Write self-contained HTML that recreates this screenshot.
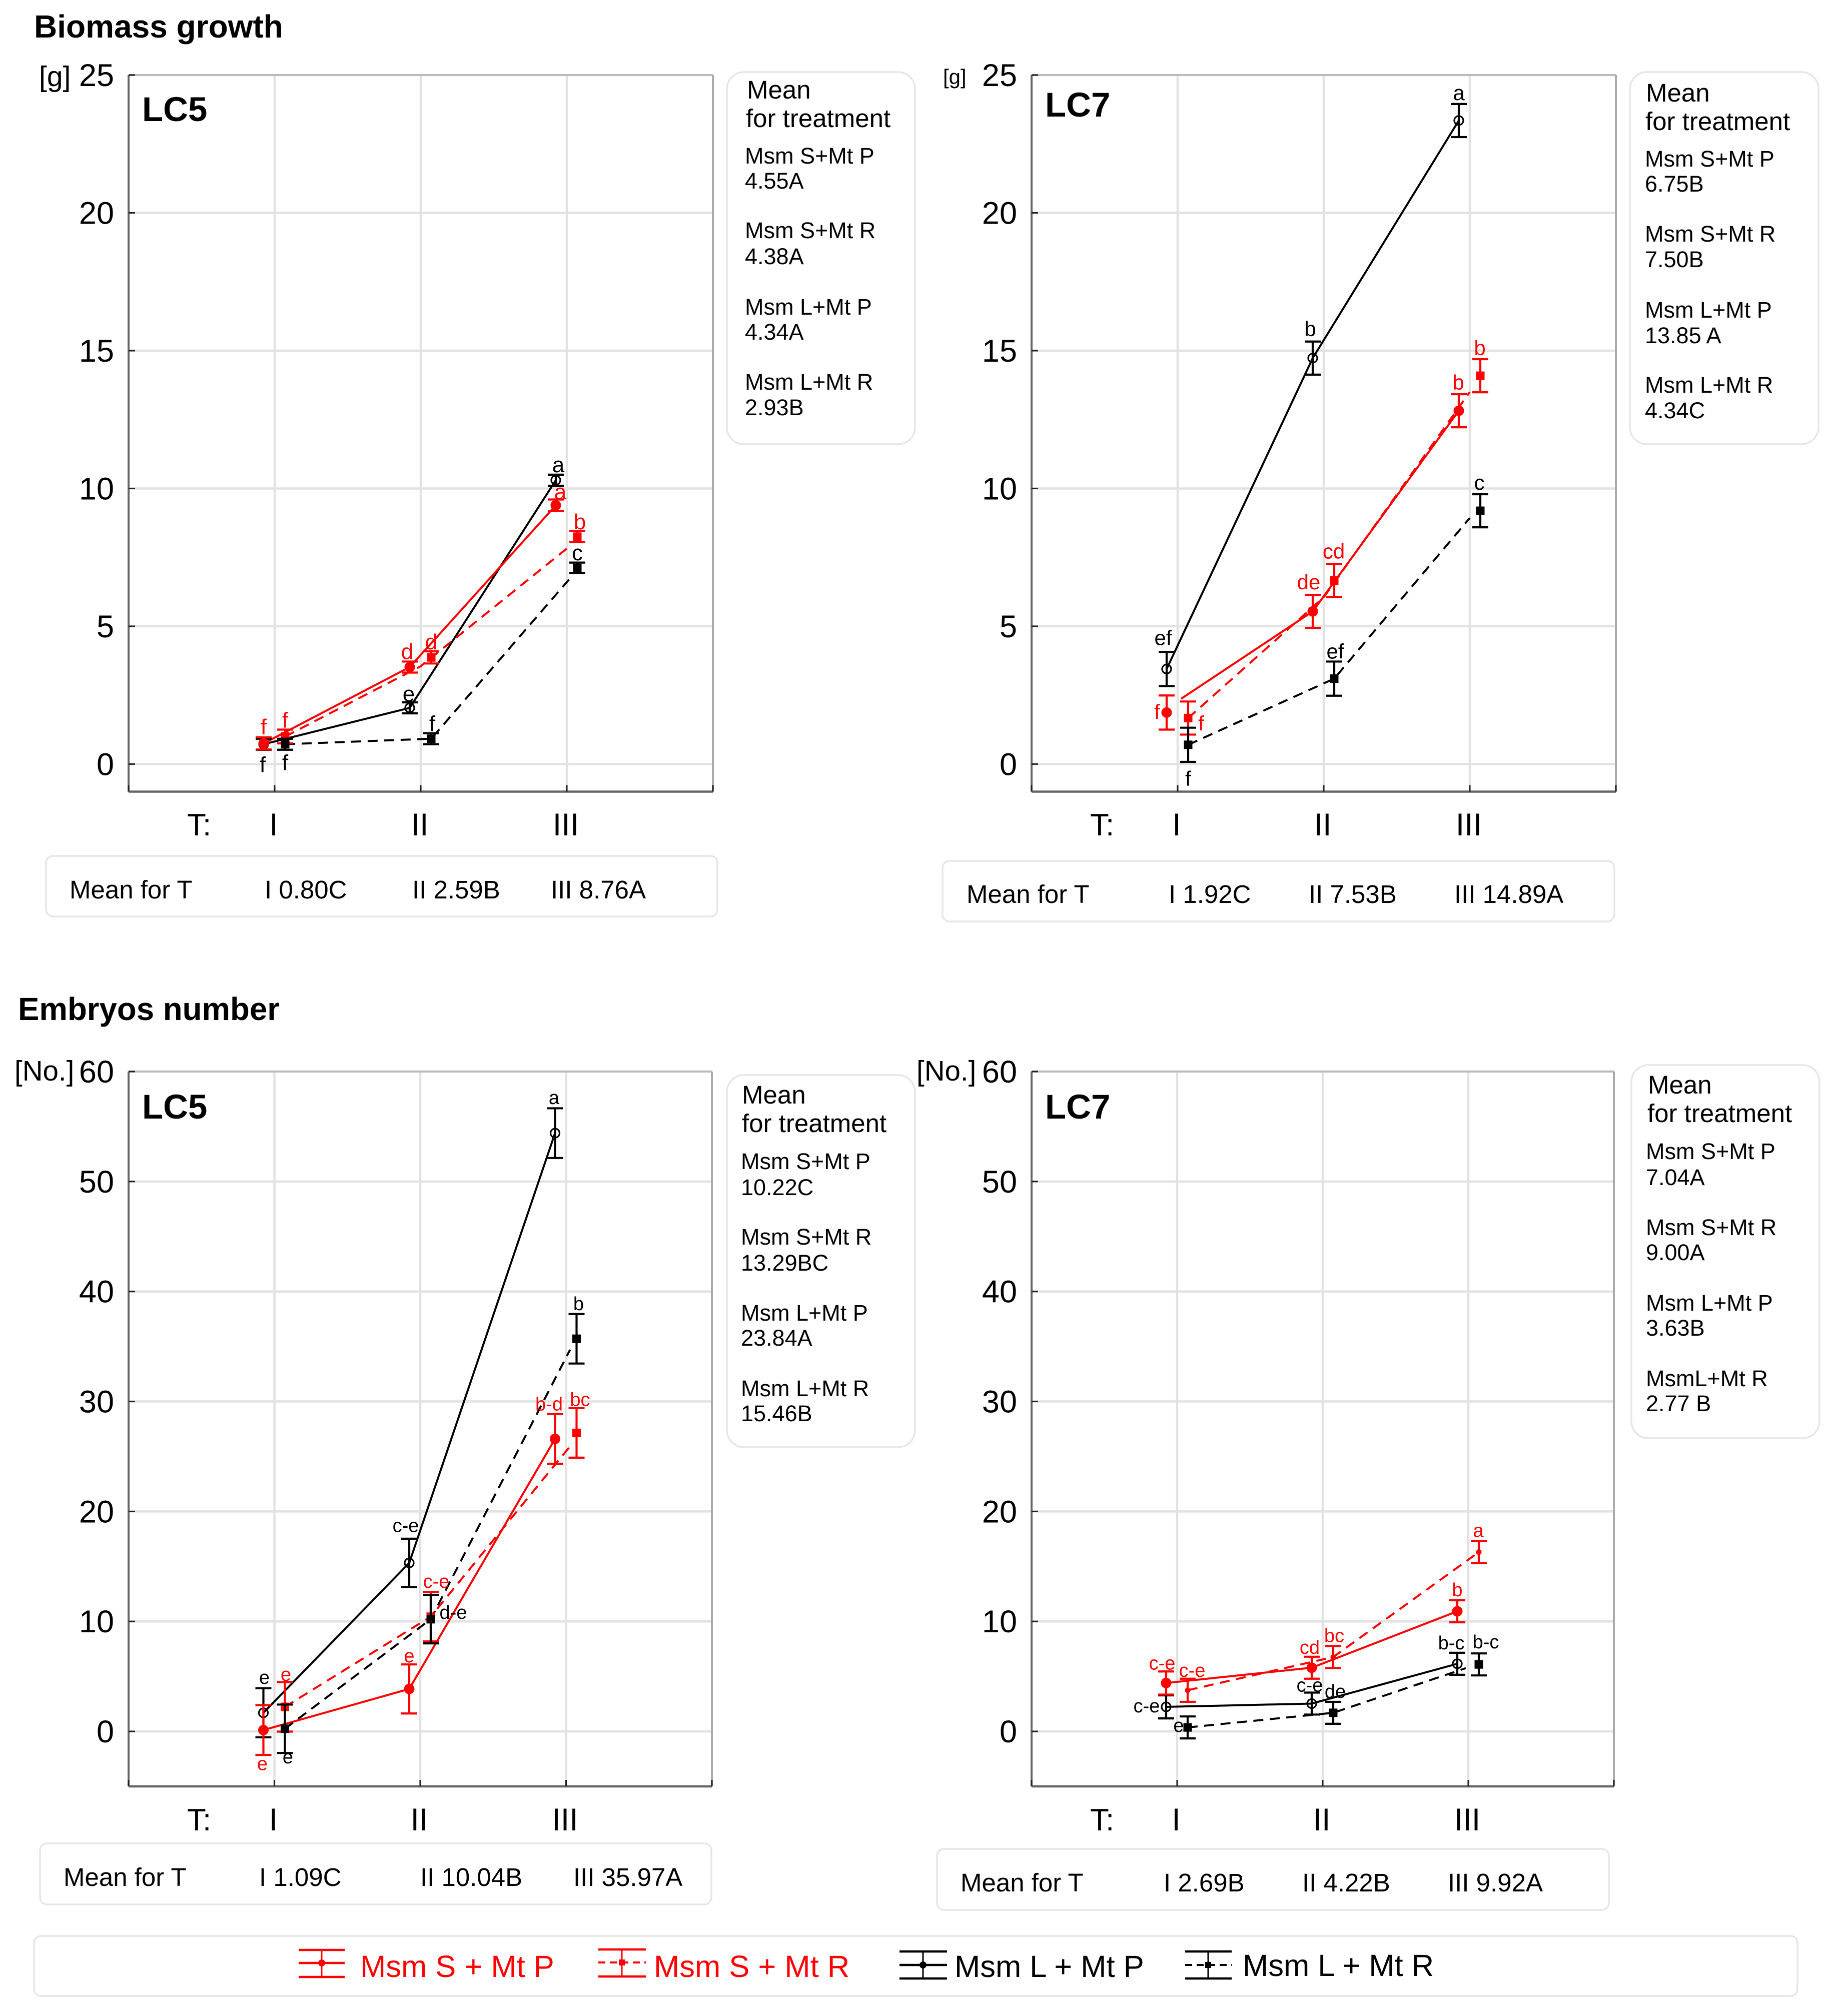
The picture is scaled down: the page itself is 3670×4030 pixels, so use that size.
<!DOCTYPE html>
<html lang="en">
<head>
<meta charset="utf-8">
<title>Biomass growth and embryos number</title>
<style>
html,body{margin:0;padding:0;background:#fff;width:3670px;height:4030px;overflow:hidden}
svg{display:block}
text{font-family:"Liberation Sans",Arial,sans-serif;fill:#000}
.sec{font-weight:bold}
.box{fill:#fff;stroke:#e6e6e6;stroke-width:3.5}
.mf{font-size:51px}
.tr{font-size:45px}
.mh{font-size:51px}
.leg{font-size:61.5px}
</style>
</head>
<body>
<svg id="chart" xmlns="http://www.w3.org/2000/svg" width="3670" height="4030" viewBox="0 0 3670 4030">
  <rect x="0" y="0" width="3670" height="4030" fill="#fff"/>
  <text class="sec" x="68" y="75" font-size="64">Biomass growth</text>
  <text class="sec" x="36" y="2039" font-size="63.6">Embryos number</text>

  <text x="78" y="172" font-size="57">[g]</text>
  <text x="1885" y="168" font-size="42">[g]</text>
  <text x="29" y="2160" font-size="56.5">[No.]</text>
  <text x="1832" y="2160" font-size="56.5">[No.]</text>

  <g>
    <rect class="box" x="1453" y="144" width="376" height="744" rx="34"/>
    <text class="mh" x="1493" y="197">Mean</text>
    <text class="mh" x="1491" y="254">for treatment</text>
    <text class="tr" x="1489" y="327">Msm S+Mt P</text>
    <text class="tr" x="1489" y="377">4.55A</text>
    <text class="tr" x="1489" y="476">Msm S+Mt R</text>
    <text class="tr" x="1489" y="528">4.38A</text>
    <text class="tr" x="1489" y="629">Msm L+Mt P</text>
    <text class="tr" x="1489" y="679">4.34A</text>
    <text class="tr" x="1489" y="779">Msm L+Mt R</text>
    <text class="tr" x="1489" y="830">2.93B</text>
  </g>
  <g>
    <rect class="box" x="3258" y="144" width="377" height="744" rx="34"/>
    <text class="mh" x="3290" y="203">Mean</text>
    <text class="mh" x="3289" y="260">for treatment</text>
    <text class="tr" x="3288" y="333">Msm S+Mt P</text>
    <text class="tr" x="3288" y="383">6.75B</text>
    <text class="tr" x="3288" y="483">Msm S+Mt R</text>
    <text class="tr" x="3288" y="534">7.50B</text>
    <text class="tr" x="3288" y="635">Msm L+Mt P</text>
    <text class="tr" x="3288" y="686">13.85 A</text>
    <text class="tr" x="3288" y="785">Msm L+Mt R</text>
    <text class="tr" x="3288" y="836">4.34C</text>
  </g>
  <g>
    <rect class="box" x="1453" y="2149" width="376" height="744" rx="34"/>
    <text class="mh" x="1483" y="2206">Mean</text>
    <text class="mh" x="1483" y="2263">for treatment</text>
    <text class="tr" x="1481" y="2337">Msm S+Mt P</text>
    <text class="tr" x="1481" y="2389">10.22C</text>
    <text class="tr" x="1481" y="2488">Msm S+Mt R</text>
    <text class="tr" x="1481" y="2540">13.29BC</text>
    <text class="tr" x="1481" y="2640">Msm L+Mt P</text>
    <text class="tr" x="1481" y="2690">23.84A</text>
    <text class="tr" x="1481" y="2791">Msm L+Mt R</text>
    <text class="tr" x="1481" y="2841">15.46B</text>
  </g>
  <g>
    <rect class="box" x="3261" y="2129" width="376" height="746" rx="34"/>
    <text class="mh" x="3294" y="2186">Mean</text>
    <text class="mh" x="3293" y="2243">for treatment</text>
    <text class="tr" x="3290" y="2317">Msm S+Mt P</text>
    <text class="tr" x="3290" y="2369">7.04A</text>
    <text class="tr" x="3290" y="2469">Msm S+Mt R</text>
    <text class="tr" x="3290" y="2519">9.00A</text>
    <text class="tr" x="3290" y="2620">Msm L+Mt P</text>
    <text class="tr" x="3290" y="2670">3.63B</text>
    <text class="tr" x="3290" y="2771">MsmL+Mt R</text>
    <text class="tr" x="3290" y="2821">2.77 B</text>
  </g>

  <g>
    <rect class="box" x="92" y="1711" width="1342" height="121" rx="14"/>
    <text class="mf" x="139" y="1796">Mean for T</text>
    <text class="mf" x="529" y="1796">I 0.80C</text>
    <text class="mf" x="824" y="1796">II 2.59B</text>
    <text class="mf" x="1101" y="1796">III 8.76A</text>
  </g>
  <g>
    <rect class="box" x="1884" y="1721" width="1343" height="121" rx="14"/>
    <text class="mf" x="1932" y="1805">Mean for T</text>
    <text class="mf" x="2336" y="1805">I 1.92C</text>
    <text class="mf" x="2616" y="1805">II 7.53B</text>
    <text class="mf" x="2907" y="1805">III 14.89A</text>
  </g>
  <g>
    <rect class="box" x="80" y="3685" width="1342" height="122" rx="14"/>
    <text class="mf" x="127" y="3770">Mean for T</text>
    <text class="mf" x="518" y="3770">I 1.09C</text>
    <text class="mf" x="840" y="3770">II 10.04B</text>
    <text class="mf" x="1146" y="3770">III 35.97A</text>
  </g>
  <g>
    <rect class="box" x="1873" y="3696" width="1343" height="122" rx="14"/>
    <text class="mf" x="1920" y="3781">Mean for T</text>
    <text class="mf" x="2326" y="3781">I 2.69B</text>
    <text class="mf" x="2603" y="3781">II 4.22B</text>
    <text class="mf" x="2894" y="3781">III 9.92A</text>
  </g>

  <g>
    <rect class="box" x="68" y="3870" width="3525" height="120" rx="14"/>
    <g stroke="#f00" fill="none">
      <path stroke-width="4.5" d="M597 3898H689M597 3924H689M597 3952H689"/>
      <path stroke-width="3" d="M643 3898V3952"/>
      <circle cx="643" cy="3924" r="7" fill="#f00" stroke="none"/>
      <text class="leg" x="720" y="3952" stroke="none" style="fill:#f00">Msm S + Mt P</text>
    </g>
    <g stroke="#f00" fill="none">
      <path stroke-width="4.5" d="M1196 3897H1291M1196 3951H1291"/>
      <path stroke-width="4" stroke-dasharray="14 9" d="M1196 3923H1291"/>
      <path stroke-width="3" d="M1243 3897V3951"/>
      <rect x="1237" y="3917" width="12" height="12" fill="#f00" stroke="none"/>
      <text class="leg" x="1307" y="3952" stroke="none" style="fill:#f00">Msm S + Mt R</text>
    </g>
    <g stroke="#000" fill="none">
      <path stroke-width="4.5" d="M1798 3901H1893M1798 3928H1893M1798 3955H1893"/>
      <path stroke-width="3" d="M1845 3901V3955"/>
      <circle cx="1845" cy="3928" r="7" fill="#000" stroke="none"/>
      <text class="leg" x="1908" y="3952" stroke="none">Msm L + Mt P</text>
    </g>
    <g stroke="#000" fill="none">
      <path stroke-width="4.5" d="M2369 3901H2462M2369 3955H2462"/>
      <path stroke-width="4" stroke-dasharray="14 9" d="M2369 3928H2462"/>
      <path stroke-width="3" d="M2415 3901V3955"/>
      <rect x="2409" y="3922" width="12" height="12" fill="#000" stroke="none"/>
      <text class="leg" x="2484" y="3950" stroke="none">Msm L + Mt R</text>
    </g>
  </g>
</svg>
<script>
// ---- shared categories and tick labels ----
const categories = ['I', 'II', 'III'];
const biomassTicks = [0, 5, 10, 15, 20, 25];
const embryosTicks = [0, 10, 20, 30, 40, 50, 60];
const biomassDomain = [-1, 25];
const embryosDomain = [-5, 60];

// ---- Biomass growth, LC5 ----
const bLC5_SP_mean = [0.75, 3.52, 9.39];
const bLC5_SP_err = [0.22, 0.2, 0.21];
const bLC5_SP_adj = [0, 0, 0];
const bLC5_SP_sig = ['f', 'd', 'a'];
const bLC5_SR_mean = [1.0, 3.87, 8.25];
const bLC5_SR_err = [0.25, 0.22, 0.2];
const bLC5_SR_adj = [0, -0.32, -0.43];
const bLC5_SR_sig = ['f', 'd', 'b'];
const bLC5_LP_mean = [0.72, 2.04, 10.3];
const bLC5_LP_err = [0.2, 0.2, 0.2];
const bLC5_LP_adj = [0, 0, 0];
const bLC5_LP_sig = ['f', 'e', 'a'];
const bLC5_LR_mean = [0.72, 0.92, 7.12];
const bLC5_LR_err = [0.2, 0.2, 0.19];
const bLC5_LR_adj = [0, 0, -0.35];
const bLC5_LR_sig = ['f', 'f', 'c'];

// ---- Biomass growth, LC7 ----
const bLC7_SP_mean = [1.87, 5.54, 12.82];
const bLC7_SP_err = [0.62, 0.6, 0.6];
const bLC7_SP_adj = [0.5, 0, 0];
const bLC7_SP_sig = ['f', 'de', 'b'];
const bLC7_SR_mean = [1.67, 6.66, 14.09];
const bLC7_SR_err = [0.6, 0.6, 0.6];
const bLC7_SR_adj = [0, -0.61, -0.59];
const bLC7_SR_sig = ['f', 'cd', 'b'];
const bLC7_LP_mean = [3.45, 14.73, 23.35];
const bLC7_LP_err = [0.62, 0.6, 0.6];
const bLC7_LP_adj = [0, 0, 0];
const bLC7_LP_sig = ['ef', 'b', 'a'];
const bLC7_LR_mean = [0.7, 3.1, 9.19];
const bLC7_LR_err = [0.62, 0.62, 0.6];
const bLC7_LR_adj = [0, 0, -0.26];
const bLC7_LR_sig = ['f', 'ef', 'c'];

// ---- Embryos number, LC5 ----
const eLC5_SP_mean = [0.12, 3.86, 26.6];
const eLC5_SP_err = [2.26, 2.23, 2.26];
const eLC5_SP_adj = [0, 0, 0];
const eLC5_SP_sig = ['e', 'e', 'b-d'];
const eLC5_SR_mean = [2.23, 10.43, 27.14];
const eLC5_SR_err = [2.25, 2.25, 2.25];
const eLC5_SR_adj = [0, 0, -0.94];
const eLC5_SR_sig = ['e', 'c-e', 'bc'];
const eLC5_LP_mean = [1.69, 15.32, 54.4];
const eLC5_LP_err = [2.23, 2.2, 2.26];
const eLC5_LP_adj = [0, 0, 0];
const eLC5_LP_sig = ['e', 'c-e', 'a'];
const eLC5_LR_mean = [0.24, 10.2, 35.7];
const eLC5_LR_err = [2.2, 2.2, 2.25];
const eLC5_LR_adj = [0, 0, -1];
const eLC5_LR_sig = ['e', 'd-e', 'b'];

// ---- Embryos number, LC7 ----
const eLC7_SP_mean = [4.4, 5.79, 10.92];
const eLC7_SP_err = [1.05, 1.0, 1.0];
const eLC7_SP_adj = [0, 0, 0];
const eLC7_SP_sig = ['c-e', 'cd', 'b'];
const eLC7_SR_mean = [3.74, 6.76, 16.3];
const eLC7_SR_err = [1.05, 1.0, 1.0];
const eLC7_SR_adj = [0, 0, 0];
const eLC7_SR_sig = ['c-e', 'bc', 'a'];
const eLC7_LP_mean = [2.23, 2.53, 6.15];
const eLC7_LP_err = [1.05, 1.0, 1.0];
const eLC7_LP_adj = [0, 0, 0];
const eLC7_LP_sig = ['c-e', 'c-e', 'b-c'];
const eLC7_LR_mean = [0.36, 1.69, 6.09];
const eLC7_LR_err = [1.0, 1.0, 1.0];
const eLC7_LR_adj = [0, 0, -0.34];
const eLC7_LR_sig = ['e', 'de', 'b-c'];

// ---- drawing ----
const svg = document.getElementById('chart');
const NS = 'http://www.w3.org/2000/svg';
const RED = '#f00';
const BLACK = '#000';

function make(tag, attrs, parent) {
  const node = document.createElementNS(NS, tag);
  for (const k in attrs) node.setAttribute(k, attrs[k]);
  parent.appendChild(node);
  return node;
}

function drawAxes(p, g, xScale, yScale) {
  for (const v of p.ticks) {
    const grid = make('line', {x1: p.left, x2: p.right, y1: yScale(v), y2: yScale(v), stroke: '#e2e2e2', 'stroke-width': 4.5}, g);
    
    
  }
  categories.forEach((c, i) => {
    const grid = make('line', {x1: xScale(i), x2: xScale(i), y1: p.top, y2: p.bottom, stroke: '#e2e2e2', 'stroke-width': 4.5}, g);
    
    
  });
  const top = make('line', {x1: p.left, x2: p.right, y1: p.top, y2: p.top, stroke: '#bbb', 'stroke-width': 4}, g);
  
  
  const right = make('line', {x1: p.right, x2: p.right, y1: p.top, y2: p.bottom, stroke: '#aaa', 'stroke-width': 4}, g);
  
  
  const yAxis = make('line', {x1: p.left, x2: p.left, y1: p.top, y2: p.bottom, stroke: '#666', 'stroke-width': 4}, g);
  
  
  const xAxis = make('line', {x1: p.left, x2: p.right, y1: p.bottom, y2: p.bottom, stroke: '#666', 'stroke-width': 4.5}, g);
  
  

  for (const v of p.ticks) {
    const tick = make('line', {x1: p.left, x2: p.left + 13, y1: yScale(v), y2: yScale(v), stroke: '#222', 'stroke-width': 3}, g);
    
    
    const label = make('text', {x: p.left - 29, y: yScale(v) + 22, 'text-anchor': 'end', 'font-size': 63}, g);
    label.textContent = String(v);
    
    
  }
  const topTick = make('line', {x1: p.left, x2: p.left + 13, y1: p.top, y2: p.top, stroke: '#222', 'stroke-width': 3}, g);
  
  

  const xEnds = [p.left, p.right];
  for (const x of xEnds) {
    const tick = make('line', {x1: x, x2: x, y1: p.bottom - 13, y2: p.bottom, stroke: '#222', 'stroke-width': 3}, g);
    
    
  }
  categories.forEach((c, i) => {
    const tick = make('line', {x1: xScale(i), x2: xScale(i), y1: p.bottom - 13, y2: p.bottom, stroke: '#222', 'stroke-width': 3}, g);
    
    
    const label = make('text', {x: xScale(i) - 2, y: p.tBase, 'text-anchor': 'middle', 'font-size': 63}, g);
    label.textContent = c;
    
    
  });
  const tLabel = make('text', {x: p.left + 117, y: p.tBase, 'font-size': 62}, g);
  tLabel.textContent = 'T:';
  
  
  const title = make('text', {x: p.left + 27, y: p.titleBase, 'font-size': 69, 'font-weight': 'bold'}, g);
  title.textContent = p.title;
  
  
}

function drawLine(p, s, g, xScale, yScale) {
  const pts = s.mean.map((m, i) => (xScale(i) + s.lineDx[i]) + ',' + yScale(m + s.adj[i]));
  const attrs = {points: pts.join(' '), fill: 'none', stroke: s.color, 'stroke-width': 4, 'stroke-linejoin': 'round'};
  if (s.dashed) attrs['stroke-dasharray'] = '20 13';
  const line = make('polyline', attrs, g);
  
  
}

function drawPoints(p, s, g, xScale, yScale) {
  s.mean.forEach((m, i) => {
    const x = xScale(i) + s.dx;
    const y = yScale(m);
    const hi = yScale(m + s.err[i]);
    const lo = yScale(m - s.err[i]);
    const bar = make('path', {d: 'M' + (x - 16) + ' ' + hi + 'H' + (x + 16) + 'M' + x + ' ' + hi + 'V' + lo + 'M' + (x - 16) + ' ' + lo + 'H' + (x + 16), fill: 'none', stroke: s.color, 'stroke-width': 4.2}, g);
    
    
    let mark;
    if (s.marker === 'open') {
      mark = make('circle', {cx: x, cy: y, r: 9, fill: 'none', stroke: s.color, 'stroke-width': 3.2}, g);
    } else if (s.marker === 'dot') {
      mark = make('circle', {cx: x, cy: y, r: 10.5, fill: s.color}, g);
    } else if (s.marker === 'small') {
      mark = make('circle', {cx: x, cy: y, r: 5.5, fill: s.color}, g);
    } else {
      mark = make('rect', {x: x - 8.5, y: y - 8.5, width: 17, height: 17, fill: s.color}, g);
    }
    
    
    const sig = make('text', {x: x + s.nudge[i][0], y: y + s.nudge[i][1], 'text-anchor': 'middle', 'font-size': p.sigSize}, g);
    sig.setAttribute('style', 'fill:' + s.color);
    sig.textContent = s.sig[i];
    
    
  });
}

function drawPanel(p) {
  const g = make('g', {}, svg);
  
  
  const yScale = v => p.top + (p.domain[1] - v) * (p.bottom - p.top) / (p.domain[1] - p.domain[0]);
  const band = (p.right - p.left) / (categories.length + 1);
  const xScale = i => p.left + (i + 1) * band;
  drawAxes(p, g, xScale, yScale);
  for (const s of p.series) drawLine(p, s, g, xScale, yScale);
  for (const s of p.series) drawPoints(p, s, g, xScale, yScale);
}

const DL = -22;
const DR = 21;
function series(key, color, dashed, marker, dx, mean, err, adj, sig, lineDx, nudge) {
  return {key, color, dashed, marker, dx, mean, err, adj, sig, lineDx, nudge};
}

drawPanel({
  name: 'biomass-lc5-panel', title: 'LC5', left: 257, right: 1425, top: 150, bottom: 1582.5,
  titleBase: 242, tBase: 1670, domain: biomassDomain, ticks: biomassTicks, sigSize: 44,
  series: [
    series('msm-l-mt-p', BLACK, false, 'open', DL, bLC5_LP_mean, bLC5_LP_err, bLC5_LP_adj, bLC5_LP_sig, [DL, DL, DL], [[-2, 56], [-2, -13], [5, -16]]),
    series('msm-s-mt-p', RED, false, 'dot', DL, bLC5_SP_mean, bLC5_SP_err, bLC5_SP_adj, bLC5_SP_sig, [DL, DL, DL], [[0, -18], [-5, -16], [9, -12]]),
    series('msm-s-mt-r', RED, true, 'square', DR, bLC5_SR_mean, bLC5_SR_err, bLC5_SR_adj, bLC5_SR_sig, [DR, 0, 0], [[0, -18], [0, -16], [5, -15]]),
    series('msm-l-mt-r', BLACK, true, 'square', DR, bLC5_LR_mean, bLC5_LR_err, bLC5_LR_adj, bLC5_LR_sig, [DR, DR, 8], [[0, 52], [2, -15], [0, -15]])
  ]
});

drawPanel({
  name: 'biomass-lc7-panel', title: 'LC7', left: 2062, right: 3230, top: 150, bottom: 1582.5,
  titleBase: 233, tBase: 1670, domain: biomassDomain, ticks: biomassTicks, sigSize: 42,
  series: [
    series('msm-l-mt-p', BLACK, false, 'open', DL, bLC7_LP_mean, bLC7_LP_err, bLC7_LP_adj, bLC7_LP_sig, [DL, DL, DL], [[-7, -48], [-5, -44], [0, -41]]),
    series('msm-s-mt-p', RED, false, 'dot', DL, bLC7_SP_mean, bLC7_SP_err, bLC7_SP_adj, bLC7_SP_sig, [7, DL, DL], [[-19, 13], [-8, -44], [-1, -42]]),
    series('msm-s-mt-r', RED, true, 'square', DR, bLC7_SR_mean, bLC7_SR_err, bLC7_SR_adj, bLC7_SR_sig, [DR, 0, 0], [[26, 25], [-1, -44], [-1, -41]]),
    series('msm-l-mt-r', BLACK, true, 'square', DR, bLC7_LR_mean, bLC7_LR_err, bLC7_LR_adj, bLC7_LR_sig, [DR, DR, 0], [[0, 82], [2, -40], [-2, -42]])
  ]
});

drawPanel({
  name: 'embryos-lc5-panel', title: 'LC5', left: 257, right: 1423, top: 2142, bottom: 3571,
  titleBase: 2236, tBase: 3659, domain: embryosDomain, ticks: embryosTicks, sigSize: 38,
  series: [
    series('msm-l-mt-p', BLACK, false, 'open', DL, eLC5_LP_mean, eLC5_LP_err, eLC5_LP_adj, eLC5_LP_sig, [DL, DL, DL], [[2, -58], [-7, -62], [-2, -58]]),
    series('msm-s-mt-p', RED, false, 'dot', DL, eLC5_SP_mean, eLC5_SP_err, eLC5_SP_adj, eLC5_SP_sig, [DL, DL, DL], [[-2, 80], [0, -53], [-12, -57]]),
    series('msm-s-mt-r', RED, true, 'square', DR, eLC5_SR_mean, eLC5_SR_err, eLC5_SR_adj, eLC5_SR_sig, [DR, DR, 13], [[2, -52], [11, -58], [7, -54]]),
    series('msm-l-mt-r', BLACK, true, 'square', DR, eLC5_LR_mean, eLC5_LR_err, eLC5_LR_adj, eLC5_LR_sig, [DR, DR, 8], [[6, 69], [45, -1], [4, -57]])
  ]
});

drawPanel({
  name: 'embryos-lc7-panel', title: 'LC7', left: 2062, right: 3226, top: 2142, bottom: 3571,
  titleBase: 2236, tBase: 3659, domain: embryosDomain, ticks: embryosTicks, sigSize: 38,
  series: [
    series('msm-l-mt-p', BLACK, false, 'open', DL, eLC7_LP_mean, eLC7_LP_err, eLC7_LP_adj, eLC7_LP_sig, [DL, DL, DL], [[-39, 11], [-4, -24], [-12, -29]]),
    series('msm-s-mt-p', RED, false, 'dot', DL, eLC7_SP_mean, eLC7_SP_err, eLC7_SP_adj, eLC7_SP_sig, [DL, DL, DL], [[-8, -27], [-4, -28], [0, -30]]),
    series('msm-s-mt-r', RED, true, 'small', DR, eLC7_SR_mean, eLC7_SR_err, eLC7_SR_adj, eLC7_SR_sig, [DR, DR, DR], [[9, -27], [2, -30], [-1, -30]]),
    series('msm-l-mt-r', BLACK, true, 'square', DR, eLC7_LR_mean, eLC7_LR_err, eLC7_LR_adj, eLC7_LR_sig, [DR, DR, -5], [[-18, 9], [4, -30], [14, -32]])
  ]
});
</script>
</body>
</html>
